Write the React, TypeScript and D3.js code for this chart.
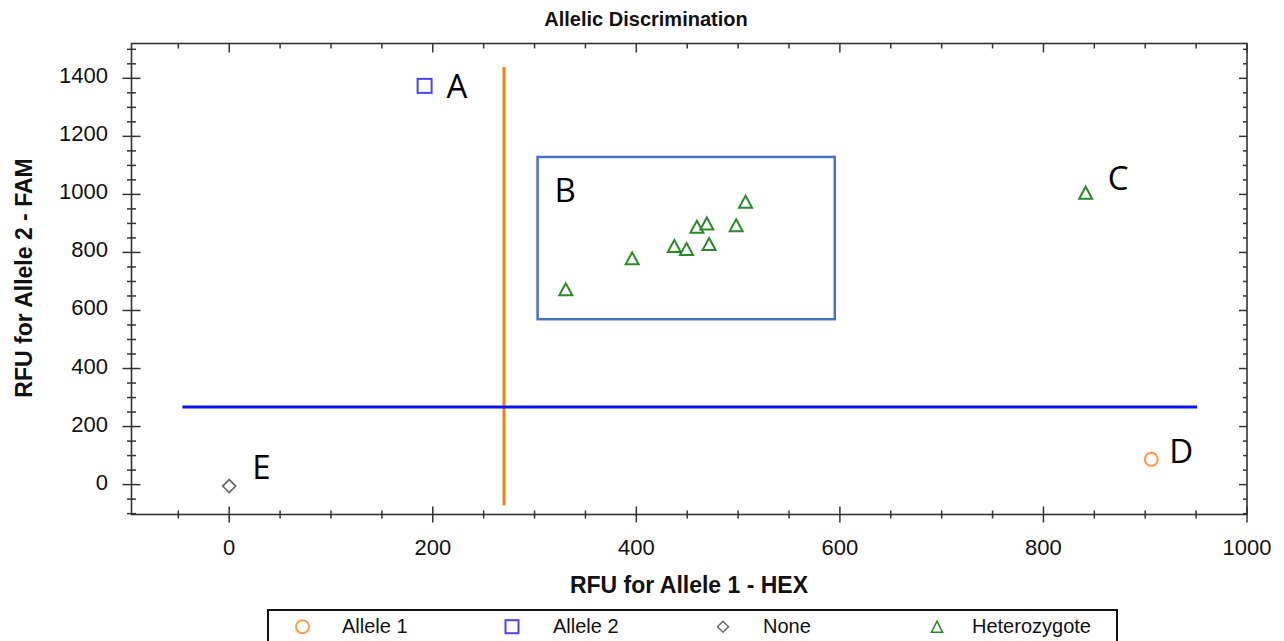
import React from "react";
import * as d3 from "d3";

// ---- data ----
const allele1X = [906];
const allele1Y = [87];
const allele2X = [192];
const allele2Y = [1374];
const noneX = [0];
const noneY = [-5];
const hetX = [330.7, 395.9, 437.3, 449.3, 459.5, 469.3, 471.5, 498.1, 507.3, 841.5];
const hetY = [672.8, 779.6, 822, 811.7, 888.5, 900, 828.9, 893.4, 974.7, 1006];

const xMajorTicks = [0, 200, 400, 600, 800, 1000];
const yMajorTicks = [0, 200, 400, 600, 800, 1000, 1200, 1400];
const xDomain = [-96, 1000];
const yDomain = [-103, 1520];

// threshold lines (data units)
const hexThreshold = 270;
const hexThresholdYRange = [-71, 1439];
const famThreshold = 267;
const famThresholdXRange = [-46, 951];

// cluster box (data units)
const clusterBoxX = [303, 595];
const clusterBoxY = [570, 1129];

const legendLabels = ["Allele 1", "Allele 2", "None", "Heterozygote"];

const W = 1284;
const H = 641;
const L = 131.5, R = 1247, T = 43.5, B = 514.5;

const COL_ORANGE = "#FF9A45";
const COL_BLUE = "#4545F5";
const COL_GREY = "#6a6a6a";
const COL_GREEN = "#2A8A2A";

function tri(cx: number, cy: number, w: number, h: number) {
  return `M${cx},${cy - h / 2}L${cx + w / 2},${cy + h / 2}L${cx - w / 2},${cy + h / 2}Z`;
}
function diamond(cx: number, cy: number, s: number) {
  return `M${cx},${cy - s}L${cx + s},${cy}L${cx},${cy + s}L${cx - s},${cy}Z`;
}

export default function App() {
  const x = d3.scaleLinear().domain(xDomain).range([L, R]);
  const y = d3.scaleLinear().domain(yDomain).range([B, T]);

  const xMinor = d3.range(-50, 1001, 50);
  const yMinor = d3.range(-100, 1501, 50);
  const font = "'Liberation Sans', Arial, sans-serif";
  const axisCol = "#333";

  const legendItems = [
    { label: legendLabels[0], mx: 302.5, tx: 342, kind: "circle" },
    { label: legendLabels[1], mx: 512, tx: 553, kind: "square" },
    { label: legendLabels[2], mx: 723, tx: 763, kind: "diamond" },
    { label: legendLabels[3], mx: 937, tx: 972, kind: "tri" },
  ];
  const ly = 626.7;

  return (
    <svg width={W} height={H} style={{ position: "absolute", left: 0, top: 0, background: "#fff" }} fontFamily={font}>
      <rect x={0} y={0} width={W} height={H} fill="#fff" />
      {/* title */}
      <text x={646} y={26} textAnchor="middle" fontSize={20} fontWeight="bold" fill="#111">Allelic Discrimination</text>

      {/* threshold lines */}
      <line x1={x(hexThreshold)} x2={x(hexThreshold)} y1={y(hexThresholdYRange[0])} y2={y(hexThresholdYRange[1])} stroke="#FA7D12" strokeWidth={3} />
      <line x1={x(famThresholdXRange[0])} x2={x(famThresholdXRange[1])} y1={y(famThreshold)} y2={y(famThreshold)} stroke="#0A14F0" strokeWidth={3} />

      {/* cluster box */}
      <rect x={x(clusterBoxX[0])} y={y(clusterBoxY[1])} width={x(clusterBoxX[1]) - x(clusterBoxX[0])} height={y(clusterBoxY[0]) - y(clusterBoxY[1])} fill="none" stroke="#4472C4" strokeWidth={2.5} />

      {/* frame */}
      <rect x={L} y={T} width={R - L} height={B - T} fill="none" stroke={axisCol} strokeWidth={1.6} />

      {/* bottom axis ticks (crossing) */}
      {xMinor.map((v) => {
        const major = v % 200 === 0;
        return <line key={"bx" + v} x1={x(v)} x2={x(v)} y1={B - (major ? 8 : 4)} y2={B + (major ? 8 : 4)} stroke={axisCol} strokeWidth={1.5} />;
      })}
      {/* top axis ticks (inward) */}
      {xMinor.map((v) => {
        const major = v % 200 === 0;
        return <line key={"tx" + v} x1={x(v)} x2={x(v)} y1={T} y2={T + (major ? 9 : 5)} stroke={axisCol} strokeWidth={1.5} />;
      })}
      {/* left axis ticks (crossing) */}
      {yMinor.map((v) => {
        const major = v % 200 === 0;
        return <line key={"ly" + v} x1={L - (major ? 9 : 4.5)} x2={L + (major ? 9 : 4.5)} y1={y(v)} y2={y(v)} stroke={axisCol} strokeWidth={1.5} />;
      })}
      {/* right axis ticks (inward) */}
      {yMinor.map((v) => {
        const major = v % 200 === 0;
        return <line key={"ry" + v} x1={R - (major ? 8 : 4)} x2={R} y1={y(v)} y2={y(v)} stroke={axisCol} strokeWidth={1.5} />;
      })}

      {/* tick labels */}
      {xMajorTicks.map((v) => (
        <text key={"xl" + v} x={x(v)} y={555} textAnchor="middle" fontSize={22} fill="#111">{v}</text>
      ))}
      {yMajorTicks.map((v) => (
        <text key={"yl" + v} x={108} y={y(v) + 5} textAnchor="end" fontSize={22} fill="#111">{v}</text>
      ))}

      {/* axis titles */}
      <text x={689} y={593} textAnchor="middle" fontSize={23} fontWeight="bold" fill="#111">RFU for Allele 1 - HEX</text>
      <text transform={`translate(32,278) rotate(-90)`} textAnchor="middle" fontSize={23} fontWeight="bold" fill="#111">RFU for Allele 2 - FAM</text>

      {/* points */}
      {allele1X.map((v, i) => (
        <circle key={"a1" + i} cx={x(v)} cy={y(allele1Y[i])} r={6.5} fill="none" stroke={COL_ORANGE} strokeWidth={2} />
      ))}
      {allele2X.map((v, i) => (
        <rect key={"a2" + i} x={x(v) - 7} y={y(allele2Y[i]) - 7} width={14} height={14} fill="none" stroke={COL_BLUE} strokeWidth={2} />
      ))}
      {noneX.map((v, i) => (
        <path key={"n" + i} d={diamond(x(v), y(noneY[i]), 6.5)} fill="none" stroke={COL_GREY} strokeWidth={1.8} />
      ))}
      {hetX.map((v, i) => (
        <path key={"h" + i} d={tri(x(v), y(hetY[i]), 13, 12)} fill="none" stroke={COL_GREEN} strokeWidth={2} strokeLinejoin="miter" />
      ))}

      {/* annotation letters */}
      <g fontFamily="'Open Sans', 'Noto Sans', sans-serif" fontSize={33} fill="#000">
        <text x={x(allele2X[0]) + 22} y={y(allele2Y[0]) + 12.5}>A</text>
        <text x={x(clusterBoxX[0]) + 17} y={y(clusterBoxY[1]) + 45}>B</text>
        <text x={x(hetX[9]) + 22} y={y(hetY[9]) - 3}>C</text>
        <text x={x(allele1X[0]) + 18} y={y(allele1Y[0]) + 4}>D</text>
        <text x={x(noneX[0]) + 23} y={y(noneY[0]) - 7}>E</text>
      </g>

      {/* legend */}
      <rect x={268} y={610} width={1117 - 268} height={60} fill="#fff" stroke="#111" strokeWidth={2} />
      {legendItems.map((it) => (
        <g key={it.label}>
          {it.kind === "circle" && <circle cx={it.mx} cy={ly} r={6.5} fill="none" stroke={COL_ORANGE} strokeWidth={2} />}
          {it.kind === "square" && <rect x={it.mx - 6.5} y={ly - 6.5} width={13} height={13} fill="none" stroke={COL_BLUE} strokeWidth={2} />}
          {it.kind === "diamond" && <path d={diamond(it.mx, ly, 5.5)} fill="none" stroke={COL_GREY} strokeWidth={1.5} />}
          {it.kind === "tri" && <path d={tri(it.mx, ly, 11, 11)} fill="none" stroke={COL_GREEN} strokeWidth={1.6} />}
          <text x={it.tx} y={633} fontSize={20} fill="#111">{it.label}</text>
        </g>
      ))}
    </svg>
  );
}
